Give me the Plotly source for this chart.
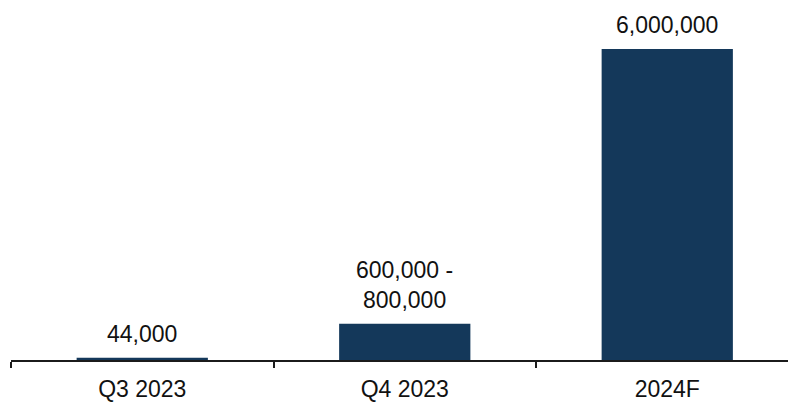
import plotly.graph_objects as go

categories = ["Q3 2023", "Q4 2023", "2024F"]
values = [44000, 700000, 6000000]
labels = ["44,000", "600,000 -<br>800,000", "6,000,000"]

BAR_COLOR = "#14385A"
AXIS_COLOR = "#1b1b1b"
FONT = "Liberation Sans, Arial, sans-serif"
FS = 23

fig = go.Figure()
fig.add_trace(go.Bar(
    x=categories, y=values, width=0.5,
    marker=dict(color=BAR_COLOR, line=dict(width=0)),
    hoverinfo="skip",
))

for c, v, t in zip(categories, values, labels):
    fig.add_annotation(x=c, y=v, text=t, showarrow=False, yanchor="bottom",
                       yshift=9, font=dict(family=FONT, size=FS, color="#111111"))

W, H = 788, 402
ml, mb = 11, 42
cat_px = 262.5
fig.update_layout(
    width=W, height=H,
    margin=dict(l=ml, r=0, t=0, b=mb, pad=0),
    paper_bgcolor="white", plot_bgcolor="white",
    showlegend=False,
    bargap=0.5,
    font=dict(family=FONT, size=FS, color="#111111"),
)
fig.update_xaxes(
    type="category", range=[-0.5, -0.5 + (W - ml) / cat_px],
    tickson="boundaries", ticks="outside", ticklen=6, tickwidth=1.5,
    tickcolor=AXIS_COLOR, showline=True, linecolor=AXIS_COLOR, linewidth=2,
    showgrid=False, zeroline=False, fixedrange=True, ticklabelstandoff=7,
    tickfont=dict(family=FONT, size=FS, color="#111111"),
)
plot_h = H - mb
fig.update_yaxes(visible=False, range=[0, 6000000 * plot_h / 311],
                 showgrid=False, zeroline=False, fixedrange=True)

fig.write_html("out.html", config={"displayModeBar": False})
